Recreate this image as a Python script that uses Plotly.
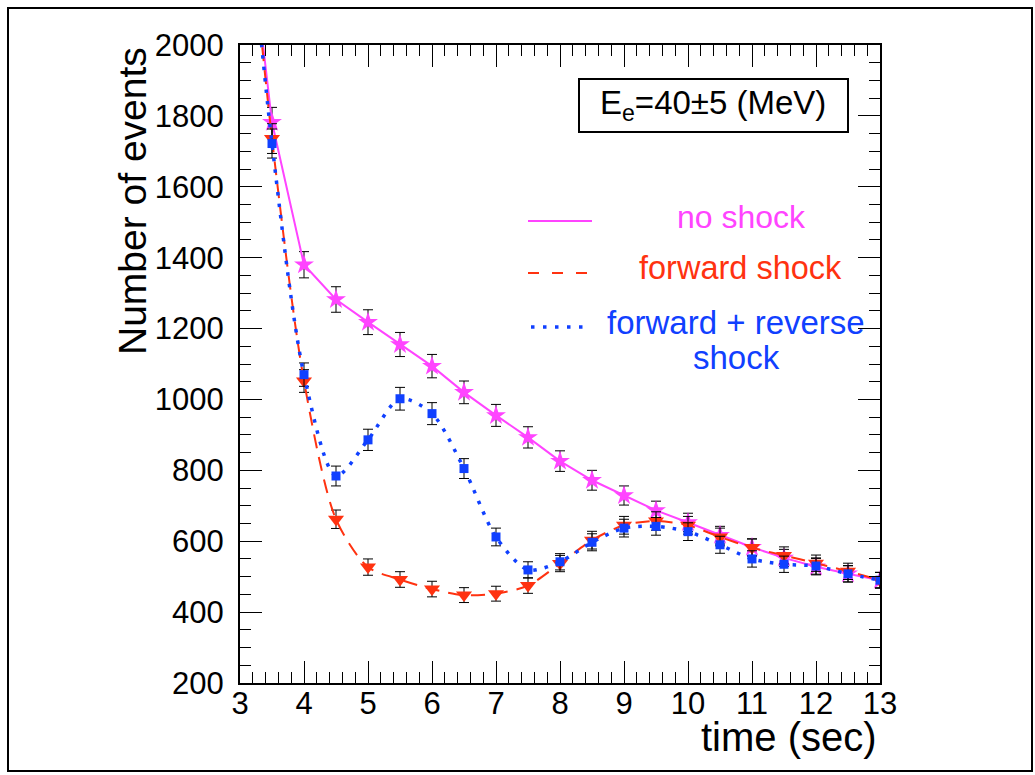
import plotly.graph_objects as go

# ---- data ----
time = [3.0, 3.5, 4.0, 4.5, 5.0, 5.5, 6.0, 6.5, 7.0, 7.5, 8.0, 8.5, 9.0, 9.5, 10.0, 10.5, 11.0, 11.5, 12.0, 12.5, 13.0]
no_shock = [2560, 1782, 1380, 1282, 1218, 1155, 1094, 1020, 955, 893, 826, 772, 729, 687, 653, 617, 583, 553, 528, 508, 490]
no_shock_err = [51, 42, 37, 36, 35, 34, 33, 32, 31, 30, 29, 28, 27, 26, 26, 25, 24, 24, 23, 23, 22]
forward = [2640, 1736, 1052, 662, 527, 492, 465, 448, 452, 475, 537, 603, 645, 657, 645, 612, 582, 560, 538, 515, 490]
forward_err = [51, 42, 32, 26, 23, 22, 22, 21, 21, 22, 23, 25, 25, 26, 25, 25, 24, 24, 23, 23, 22]
fwd_rev = [2650, 1722, 1070, 784, 886, 1002, 960, 805, 612, 519, 542, 597, 637, 642, 627, 590, 550, 535, 530, 508, 490]
fwd_rev_err = [51, 41, 33, 28, 30, 32, 31, 28, 25, 23, 23, 24, 25, 25, 25, 24, 23, 23, 23, 23, 22]

x_ticks = [3, 4, 5, 6, 7, 8, 9, 10, 11, 12, 13]
y_ticks = [200, 400, 600, 800, 1000, 1200, 1400, 1600, 1800, 2000]

MAGENTA = "#ff44ff"
RED = "#ff3210"
BLUE = "#1040ff"
FONT = "Liberation Sans"

W, H = 1035, 775
L, R, T, B = 240, 880, 45, 683


def px(x):
    return (x - L) / (R - L)


def py(y):
    return (B - y) / (B - T)


err_style = dict(type="data", visible=True, color="black", thickness=1, width=5)

fig = go.Figure()
fig.add_trace(go.Scatter(
    x=time, y=no_shock, mode="lines+markers", name="no shock",
    line=dict(color=MAGENTA, width=2),
    marker=dict(symbol="star", size=15, color=MAGENTA, line=dict(width=0)),
    error_y=dict(array=no_shock_err, **err_style),
))
fig.add_trace(go.Scatter(
    x=time, y=forward, mode="lines+markers", name="forward shock",
    line=dict(color=RED, width=2, dash="14px,9px", shape="spline", smoothing=0.8),
    marker=dict(symbol="triangle-down", size=14, color=RED, line=dict(width=0)),
    error_y=dict(array=forward_err, **err_style),
))
fig.add_trace(go.Scatter(
    x=time, y=fwd_rev, mode="lines+markers", name="forward + reverse shock",
    line=dict(color=BLUE, width=3.5, dash="3.5px,8px", shape="spline", smoothing=0.8),
    marker=dict(symbol="square", size=9, color=BLUE, line=dict(width=0)),
    error_y=dict(array=fwd_rev_err, **err_style),
))

axis_common = dict(
    showgrid=False, zeroline=False, showline=True, linecolor="black", linewidth=2,
    mirror="allticks", ticks="inside", ticklen=22, tickwidth=1, tickcolor="black",
    tickfont=dict(family=FONT, size=31, color="black"),
)

fig.update_xaxes(range=[3, 13], tickvals=x_ticks, ticktext=[str(v) for v in x_ticks],
                 minor=dict(dtick=0.2, tick0=3, ticks="inside", ticklen=11, tickwidth=1, tickcolor="black"),
                 ticklabelstandoff=-8, **axis_common)
fig.update_yaxes(range=[200, 2000], tickvals=y_ticks, ticktext=[str(v) for v in y_ticks],
                 minor=dict(dtick=50, tick0=200, ticks="inside", ticklen=11, tickwidth=1, tickcolor="black"),
                 ticklabelstandoff=8, **axis_common)

shapes = [
    # outer canvas frame
    dict(type="rect", xref="paper", yref="paper", x0=px(8), x1=px(1032), y0=py(8), y1=py(771),
         line=dict(color="black", width=2), fillcolor="rgba(0,0,0,0)", layer="below"),
    # energy box
    dict(type="rect", xref="paper", yref="paper", x0=px(579), x1=px(848), y0=py(79), y1=py(132),
         line=dict(color="black", width=2), fillcolor="white"),
    # legend samples
    dict(type="line", xref="paper", yref="paper", x0=px(528), x1=px(592), y0=py(221), y1=py(221),
         line=dict(color=MAGENTA, width=2)),
    dict(type="line", xref="paper", yref="paper", x0=px(528), x1=px(590), y0=py(273), y1=py(273),
         line=dict(color=RED, width=2, dash="11px,13px")),
    dict(type="line", xref="paper", yref="paper", x0=px(531), x1=px(586), y0=py(327), y1=py(327),
         line=dict(color=BLUE, width=3.5, dash="3.5px,8.5px")),
]

annotations = [
    dict(text="E<sub>e</sub>=40±5 (MeV)", xref="paper", yref="paper", x=px(713), y=py(105),
         xanchor="center", yanchor="middle", showarrow=False,
         font=dict(family=FONT, size=33, color="black")),
    dict(text="no shock", xref="paper", yref="paper", x=px(741), y=py(217),
         xanchor="center", yanchor="middle", showarrow=False,
         font=dict(family=FONT, size=32, color=MAGENTA)),
    dict(text="forward shock", xref="paper", yref="paper", x=px(740), y=py(268),
         xanchor="center", yanchor="middle", showarrow=False,
         font=dict(family=FONT, size=32.5, color=RED)),
    dict(text="forward + reverse", xref="paper", yref="paper", x=px(736), y=py(322),
         xanchor="center", yanchor="middle", showarrow=False,
         font=dict(family=FONT, size=33, color=BLUE)),
    dict(text="shock", xref="paper", yref="paper", x=px(736), y=py(357),
         xanchor="center", yanchor="middle", showarrow=False,
         font=dict(family=FONT, size=33, color=BLUE)),
    dict(text="Number of events", xref="paper", yref="paper", x=px(132), y=py(45),
         xanchor="center", yanchor="top", textangle=-90, showarrow=False,
         font=dict(family=FONT, size=39, color="black")),
    dict(text="time (sec)", xref="paper", yref="paper", x=px(879), y=py(737),
         xanchor="right", yanchor="middle", showarrow=False,
         font=dict(family=FONT, size=40, color="black")),
]

fig.update_layout(
    width=W, height=H,
    margin=dict(l=L, r=W - R, t=T, b=H - B),
    paper_bgcolor="white", plot_bgcolor="white",
    showlegend=False,
    shapes=shapes, annotations=annotations,
)

fig.write_html("out.html")
